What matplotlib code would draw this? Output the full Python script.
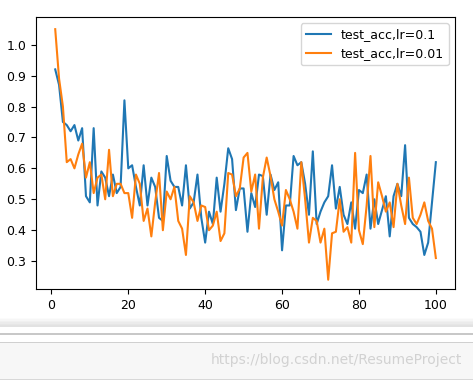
import matplotlib
matplotlib.use('Agg')
from matplotlib import pylab as plt
from matplotlib.patches import Rectangle

epochs = list(range(1, 101))

acc_lr01 = [0.92, 0.87, 0.75, 0.74, 0.72, 0.74, 0.69, 0.73, 0.51, 0.49,
            0.73, 0.48, 0.59, 0.57, 0.51, 0.58, 0.52, 0.54, 0.82, 0.60,
            0.61, 0.54, 0.48, 0.61, 0.48, 0.57, 0.54, 0.44, 0.43, 0.64,
            0.56, 0.54, 0.54, 0.48, 0.61, 0.47, 0.49, 0.58, 0.44, 0.36,
            0.46, 0.42, 0.57, 0.46, 0.55, 0.665, 0.63, 0.465, 0.535, 0.535,
            0.395, 0.52, 0.475, 0.58, 0.575, 0.45, 0.58, 0.53, 0.555, 0.335,
            0.48, 0.48, 0.64, 0.61, 0.62, 0.55, 0.45, 0.655, 0.42, 0.46,
            0.49, 0.51, 0.61, 0.47, 0.54, 0.45, 0.42, 0.49, 0.405, 0.53,
            0.52, 0.58, 0.405, 0.50, 0.42, 0.465, 0.51, 0.38, 0.51, 0.55,
            0.51, 0.675, 0.44, 0.42, 0.41, 0.395, 0.32, 0.36, 0.49, 0.62]

acc_lr001 = [1.05, 0.89, 0.80, 0.62, 0.63, 0.60, 0.645, 0.68, 0.57, 0.62,
             0.52, 0.57, 0.58, 0.50, 0.66, 0.51, 0.55, 0.55, 0.52, 0.52,
             0.44, 0.58, 0.55, 0.43, 0.47, 0.38, 0.49, 0.585, 0.40, 0.525,
             0.50, 0.54, 0.43, 0.405, 0.32, 0.51, 0.49, 0.43, 0.48, 0.475,
             0.40, 0.415, 0.46, 0.365, 0.39, 0.585, 0.58, 0.51, 0.535, 0.635,
             0.65, 0.525, 0.58, 0.405, 0.57, 0.635, 0.575, 0.50, 0.46, 0.415,
             0.53, 0.50, 0.46, 0.405, 0.62, 0.50, 0.36, 0.44, 0.43, 0.36,
             0.405, 0.24, 0.39, 0.395, 0.50, 0.395, 0.41, 0.36, 0.65, 0.40,
             0.355, 0.48, 0.64, 0.41, 0.555, 0.51, 0.46, 0.49, 0.41, 0.55,
             0.48, 0.42, 0.57, 0.44, 0.42, 0.45, 0.49, 0.43, 0.405, 0.31]

plt.rcParams['font.size'] = 9

fig = plt.figure(figsize=(4.73, 3.82), dpi=100)
ax = fig.add_axes([0.0761, 0.2435, 0.886, 0.7125])
ax.plot(epochs, acc_lr01, linewidth=1.5, label='test_acc,lr=0.1')
ax.plot(epochs, acc_lr001, linewidth=1.5, label='test_acc,lr=0.01')
ax.set_xlim(-4.0, 105.0)
ax.set_ylim(0.21, 1.09)
ax.set_xticks([0, 20, 40, 60, 80, 100])
ax.set_yticks([0.3, 0.4, 0.5, 0.6, 0.7, 0.8, 0.9, 1.0])
ax.legend(loc='upper right')

# notebook ui strip under the plot
def band(y0, h, c):
    fig.add_artist(Rectangle((0, y0), 1, h, transform=fig.transFigure,
                             facecolor=c, edgecolor='none'))

shades = ['#fbfbfb', '#f6f6f6', '#f0f0f0', '#ebebeb', '#e6e6e6', '#e2e2e2']
for i, c in enumerate(shades):
    band(0.168 - (i + 1) * 0.004, 0.004, c)
band(0.124, 0.003, '#c8c8c8')
band(0.008, 0.097, '#f7f7f7')
band(0.103, 0.003, '#d0d0d0')
band(0.006, 0.003, '#d8d8d8')
fig.text(0.978, 0.04, 'https://blog.csdn.net/ResumeProject', ha='right',
         va='bottom', color='#d2d2d2', fontsize=10)

plt.savefig('out.png', dpi=100)
